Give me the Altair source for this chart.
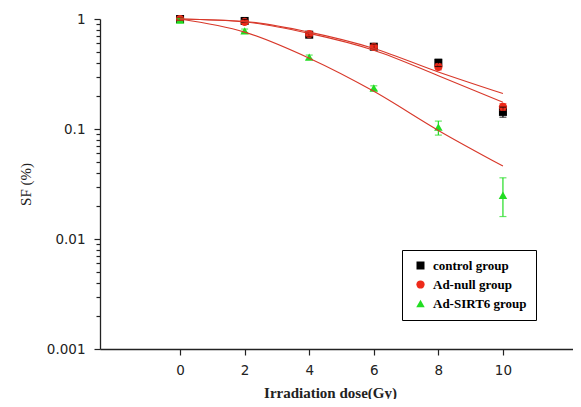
import altair as alt
import pandas as pd

# ---- data ----
groups = ["control group", "Ad-null group", "Ad-SIRT6 group"]
dose = [0, 2, 4, 6, 8, 10]

control_sf = [1.0, 0.96, 0.72, 0.56, 0.40, 0.143]
control_lo = [0.97, 0.93, 0.69, 0.53, 0.37, 0.128]
control_hi = [1.03, 0.99, 0.75, 0.59, 0.43, 0.158]

null_sf = [1.0, 0.94, 0.73, 0.557, 0.367, 0.159]
null_lo = [0.97, 0.91, 0.70, 0.53, 0.345, 0.148]
null_hi = [1.03, 0.97, 0.76, 0.58, 0.39, 0.17]

sirt6_sf = [0.98, 0.78, 0.45, 0.236, 0.104, 0.025]
sirt6_lo = [0.95, 0.75, 0.43, 0.225, 0.088, 0.016]
sirt6_hi = [1.01, 0.81, 0.47, 0.247, 0.118, 0.036]

# fitted curves
fit_dose = [0, 2, 4, 6, 8, 10]
fit_control = [1.0, 0.95, 0.76, 0.54, 0.33, 0.21]
fit_null = [1.0, 0.94, 0.74, 0.52, 0.305, 0.175]
fit_sirt6 = [1.0, 0.76, 0.44, 0.22, 0.097, 0.046]

y_ticks = [m * d for d in [0.1, 0.01, 0.001] for m in range(1, 10)] + [1]
x_ticks = [0, 2, 4, 6, 8, 10]

rows = []
for g, sf, lo, hi in zip(groups,
                         [control_sf, null_sf, sirt6_sf],
                         [control_lo, null_lo, sirt6_lo],
                         [control_hi, null_hi, sirt6_hi]):
    for d, s, l, h in zip(dose, sf, lo, hi):
        rows.append({"dose": d, "sf": s, "lo": l, "hi": h, "group": g})
pts = pd.DataFrame(rows)

frows = []
for g, fv in zip(groups, [fit_control, fit_null, fit_sirt6]):
    for d, v in zip(fit_dose, fv):
        frows.append({"dose": d, "fit": v, "group": g})
fits = pd.DataFrame(frows)

colors = ["#000000", "#ee2a1a", "#22dd22"]
shapes = ["square", "circle", "triangle-up"]
sizes = [64, 72, 105]

is_major = "abs(log(datum.value)/LN10 - round(log(datum.value)/LN10)) < 1e-6"

xscale = alt.Scale(domain=[-2.48, 12.17], nice=False, zero=False)
yscale = alt.Scale(type="log", domain=[0.001, 1], nice=False)

xaxis = alt.Axis(values=x_ticks, title="Irradiation dose(Gy)", grid=False,
                 tickSize=6, labelPadding=8, labelFontSize=13.5,
                 labelFont="DejaVu Sans", labelColor="#222",
                 titleFont="Liberation Serif", titleFontSize=15,
                 titleFontWeight="bold", titleColor="#222",
                 titleX=230, titleY=43, titleBaseline="middle",
                 titleAlign="center")
yaxis = alt.Axis(values=y_ticks, title="SF (%)", grid=False, format="~g",
                 labelExpr=f"({is_major}) ? datum.label : ''",
                 tickSize={"condition": {"test": is_major, "value": 6}, "value": 4},
                 labelPadding=9, labelFontSize=13.5, labelFont="DejaVu Sans",
                 labelColor="#222",
                 titleFont="Liberation Serif", titleFontSize=15,
                 titleFontWeight="normal", titleColor="#222",
                 titleX=-75, titleY=165, titleBaseline="middle",
                 titleAlign="center", titleAngle=-90)

bar_color = alt.Color("group:N", scale=alt.Scale(domain=groups, range=colors), legend=None)
color_enc = alt.Color("group:N", scale=alt.Scale(domain=groups, range=colors),
                      legend=alt.Legend(title=None, orient="none",
                                        legendX=302, legendY=231,
                                        strokeColor="#000", fillColor="#fff",
                                        padding=9, rowPadding=5,
                                        symbolOffset=3, labelOffset=6,
                                        labelFont="Liberation Serif",
                                        labelFontSize=13, labelFontWeight="bold",
                                        labelColor="#000",
                                        symbolSize=64, symbolStrokeWidth=0))
shape_enc = alt.Shape("group:N", scale=alt.Scale(domain=groups, range=shapes))
size_enc = alt.Size("group:N", scale=alt.Scale(domain=groups, range=sizes), legend=None)

base = alt.Chart(pts)

points = base.mark_point(filled=True, opacity=1).encode(
    x=alt.X("dose:Q", scale=xscale, axis=xaxis),
    y=alt.Y("sf:Q", scale=yscale, axis=yaxis),
    color=color_enc, shape=shape_enc, size=size_enc,
)
bars = base.mark_rule(strokeWidth=1.2).encode(
    x="dose:Q", y="lo:Q", y2="hi:Q", color=bar_color,
)
cap_lo = base.mark_tick(orient="horizontal", size=7, thickness=1.2).encode(
    x="dose:Q", y="lo:Q", color=bar_color,
)
cap_hi = base.mark_tick(orient="horizontal", size=7, thickness=1.2).encode(
    x="dose:Q", y="hi:Q", color=bar_color,
)
lines = alt.Chart(fits).mark_line(color="#d8382a", strokeWidth=1.1,
                                  interpolate="monotone").encode(
    x="dose:Q", y="fit:Q", detail="group:N",
)

chart = alt.layer(points, bars, cap_lo, cap_hi, lines).resolve_scale(
    color="independent", shape="independent", size="independent"
).properties(
    width=473, height=330,
    autosize=alt.AutoSizeParams(type="none"),
    padding={"left": 92, "top": 11, "right": 0, "bottom": 50},
    background="white",
).configure_view(stroke=None).configure_axis(
    domainColor="#222", domainWidth=1.3, tickColor="#222", tickWidth=1.2,
)

chart.save("out.html", embed_options={"renderer": "svg", "actions": False})
